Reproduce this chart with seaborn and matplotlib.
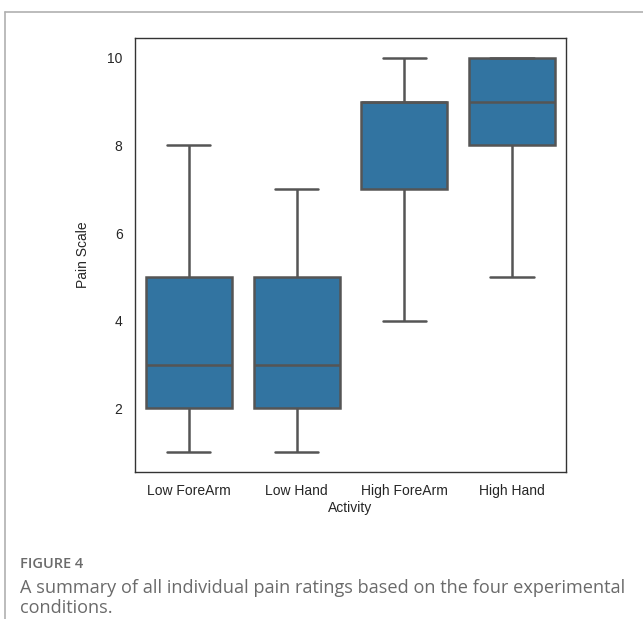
import pandas as pd
import matplotlib.pyplot as plt
import seaborn as sns
from matplotlib.lines import Line2D

# individual pain ratings per condition (estimated from the box summaries)
activities = ['Low ForeArm', 'Low Hand', 'High ForeArm', 'High Hand']
low_forearm = [1, 2, 2, 2, 3, 3, 3, 4, 5, 5, 6, 8]
low_hand = [1, 2, 2, 2, 3, 3, 3, 4, 5, 5, 6, 7]
high_forearm = [4, 6, 7, 7, 8, 9, 9, 9, 9, 9, 10, 10]
high_hand = [5, 7, 8, 8, 8, 9, 9, 10, 10, 10, 10, 10]

ratings = [low_forearm, low_hand, high_forearm, high_hand]
df = pd.DataFrame({
    'Activity': [a for a, r in zip(activities, ratings) for _ in r],
    'Pain Scale': [v for r in ratings for v in r],
})

sns.set_style("white")
plt.rcParams['font.family'] = ['Liberation Sans', 'DejaVu Sans']

fig = plt.figure(figsize=(6.43, 6.19), dpi=100)
ax = fig.add_axes([0.210, 0.2375, 0.670, 0.701])
sns.boxplot(data=df, x='Activity', y='Pain Scale', order=activities,
            color='#1f77b4', linecolor='#555555', linewidth=1.8, width=0.8, ax=ax)
ax.set_yticks([2, 4, 6, 8, 10])
ax.tick_params(labelsize=10, colors='#262626', length=0, pad=9)
ax.set_xlabel('Activity', fontsize=10, color='#262626', labelpad=2)
ax.set_ylabel('Pain Scale', fontsize=10, color='#262626', labelpad=12)
for s in ax.spines.values():
    s.set_color('#333333')
    s.set_linewidth(1.0)

# page frame lines
fig.add_artist(Line2D([5/643, 1], [1 - 12/619, 1 - 12/619], color='#b0b0b0', lw=1.2))
fig.add_artist(Line2D([5/643, 5/643], [0, 1 - 12/619], color='#b0b0b0', lw=1.2))

cap = ['Open Sans', 'DejaVu Sans']
fig.text(20/643, 1 - 564/619, 'FIGURE 4', family=cap, fontsize=10.5,
         fontweight='semibold', color='#6b6b6b', va='center')
fig.text(20/643, 1 - 588/619,
         'A summary of all individual pain ratings based on the four experimental',
         family=cap, fontsize=13.1, color='#6a6a6a', va='center')
fig.text(20/643, 1 - 608/619, 'conditions.', family=cap, fontsize=13.1,
         color='#6a6a6a', va='center')

fig.savefig('out.png', dpi=100)
